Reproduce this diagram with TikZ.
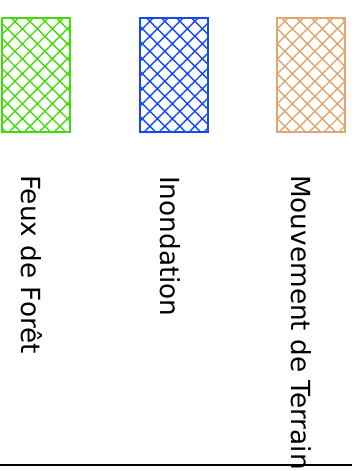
\documentclass[tikz,border=0pt]{standalone}
\usepackage{fontspec}
\setmainfont{DejaVu Sans}
\usetikzlibrary{patterns.meta}

\definecolor{feux}{RGB}{68,218,10}
\definecolor{inond}{RGB}{20,72,255}
\definecolor{terrain}{RGB}{222,166,112}

\begin{document}
\begin{tikzpicture}[x=1pt,y=-1pt,
    legbox/.style={draw=#1,line width=1.8pt,minimum width=68pt,minimum height=114pt,
      inner sep=0pt,anchor=north west,
      pattern={Hatch[angle=45,distance=10.6pt,line width=1.4pt]},pattern color=#1},
    leglabel/.style={rotate=-90,anchor=base west,inner sep=0pt,
      font=\fontsize{26.3}{30}\selectfont}
  ]
  \useasboundingbox (0,0) rectangle (352,471);
  \node[legbox=feux]    (b1) at (0.9,16.9)   {};
  \node[legbox=inond]   (b2) at (138.9,16.9) {};
  \node[legbox=terrain] (b3) at (275.9,16.9) {};
  \node[leglabel] (l1) at (21,175)  {Feux de Forêt};
  \node[leglabel] (l2) at (160,176) {Inondation};
  \node[leglabel] (l3) at (291,175) {Mouvement de Terrain};
  \coordinate (axl) at (0,465);
  \coordinate (axr) at (352,465);
  \draw[line width=1.5pt] (axl) -- (axr);
\end{tikzpicture}
\end{document}
